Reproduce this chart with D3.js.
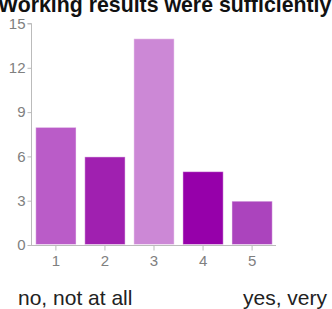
<!DOCTYPE html>
<html><head><meta charset="utf-8">
<script src="https://cdn.jsdelivr.net/npm/d3@7"></script>
<style>body{margin:0;background:#fff;}svg{display:block;}</style>
</head><body>
<script>
const categories = ["1","2","3","4","5"];
const values = [8, 6, 14, 5, 3];
const colors = ["#BA5CC8","#A020B0","#CC88D6","#9600AA","#AB44BD"];
const yTicks = [0,3,6,9,12,15];
const title = "Working results were sufficiently";
const leftLabel = "no, not at all";
const rightLabel = "yes, very";

const W = 332, H = 309;
const svg = d3.select("body").append("svg").attr("width", W).attr("height", H);
const font = "Liberation Sans, Arial, sans-serif";

const x = d3.scaleBand().domain(categories).range([35.25, 272.75]).paddingInner(0.158).paddingOuter(0);
const y = d3.scaleLinear().domain([0, 15]).range([245, 23.5]);

svg.append("text").attr("x", -2).attr("y", 12).attr("font-family", font)
  .attr("font-size", 21.3).attr("font-weight", "bold").attr("fill", "#111")
  .text(title);

// bars
svg.selectAll("rect.bar").data(values).enter().append("rect")
  .attr("x", (d,i) => x(categories[i]) + 0.5)
  .attr("y", d => y(d) + 0.5)
  .attr("width", x.bandwidth() - 1)
  .attr("height", d => y(0) - y(d) - 1)
  .attr("fill", (d,i) => colors[i])
  .attr("stroke", "#fff").attr("stroke-opacity", 0.45).attr("stroke-width", 1);

// y axis
const yAxis = svg.append("g").attr("transform", "translate(31.5,0)")
  .call(d3.axisLeft(y).tickValues(yTicks).tickSize(4).tickPadding(2));
yAxis.select(".domain").attr("stroke", "#bbb").attr("d", `M-4,${y(15)}H0V${y(0)}`);
yAxis.selectAll(".tick line").attr("stroke", "#bbb");
yAxis.selectAll(".tick text").attr("font-family", font).attr("font-size", 15).attr("fill", "#808080");

// x axis
const xAxis = svg.append("g").attr("transform", `translate(0,${y(0)+0.5})`)
  .call(d3.axisBottom(x).tickSize(5).tickPadding(5));
xAxis.select(".domain").attr("stroke", "#bbb").attr("d", "M28,0H276");
xAxis.selectAll(".tick line").attr("stroke", "#bbb");
xAxis.selectAll(".tick text").attr("font-family", font).attr("font-size", 15).attr("fill", "#808080");

svg.append("text").attr("x", 18).attr("y", 305).attr("font-family", font)
  .attr("font-size", 21).attr("fill", "#222").text(leftLabel);
svg.append("text").attr("x", 327).attr("y", 305).attr("text-anchor", "end").attr("font-family", font)
  .attr("font-size", 21).attr("fill", "#222").text(rightLabel);
</script>
</body></html>
